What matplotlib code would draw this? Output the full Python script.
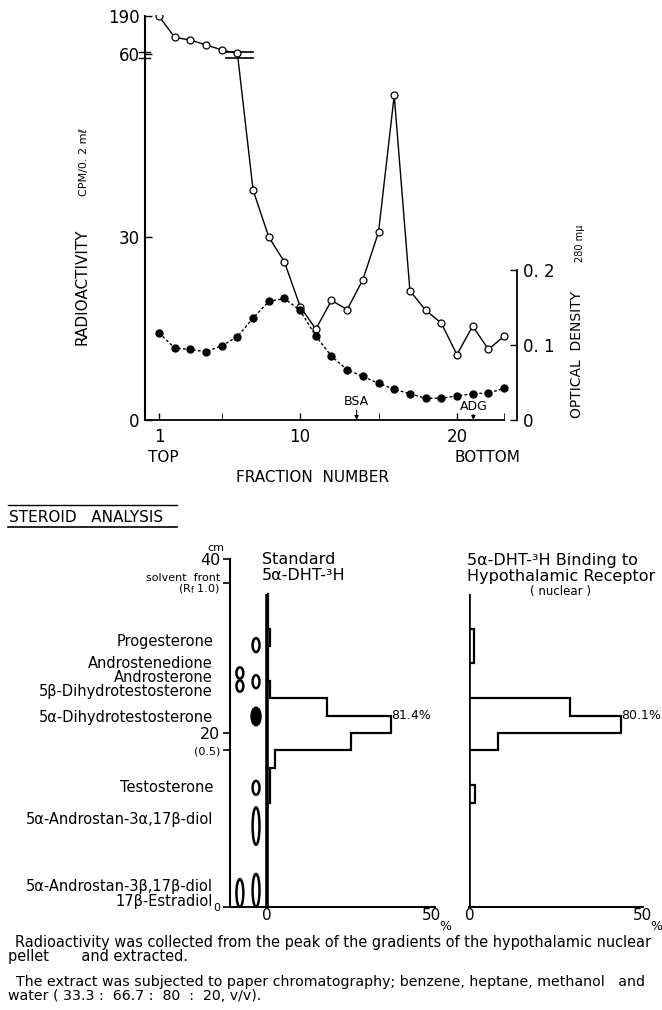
import numpy as np
import matplotlib
matplotlib.use('Agg')
import matplotlib.pyplot as plt
from matplotlib.patches import Ellipse
from matplotlib.lines import Line2D
from matplotlib.transforms import blended_transform_factory

W, H = 662, 1010

# gradient fractions (top panel)
fraction = np.arange(1, 24)
cpm = [190, 117, 108, 91, 74, 62, 37.7, 30, 25.9, 18.6, 14.9, 19.6, 18.1,
       23, 30.8, 53.2, 21.2, 18.0, 15.9, 10.7, 15.4, 11.6, 13.7]
od280 = [0.116, 0.096, 0.094, 0.091, 0.099, 0.111, 0.136, 0.158, 0.162, 0.146,
         0.112, 0.085, 0.067, 0.058, 0.049, 0.041, 0.035, 0.029, 0.029, 0.032,
         0.035, 0.036, 0.042]
bsa_fraction = 13.6
adg_fraction = 21.05

# paper chromatography (bottom panels), 2 cm strips
cm_edges = np.arange(0, 37, 2)
standard_pct = [0, 0, 0, 0, 0, 0, 0.8, 0.8, 2.4, 25.5, 37.6, 18.3, 0.8, 0.4, 0.4, 1.0, 0.4, 0.4]
receptor_pct = [0, 0, 0, 0, 0, 0, 1.5, 0, 0, 8.1, 43.6, 28.9, 0, 0, 1.4, 1.4, 0, 0]
standard_total = '81.4%'
receptor_total = '80.1%'
solvent_front = 37.2
rf_half = 18.0

steroid_names = ['Progesterone', 'Androstenedione', 'Androsterone', '5β-Dihydrotestosterone',
                 '5α-Dihydrotestosterone', 'Testosterone', '5α-Androstan-3α,17β-diol',
                 '5α-Androstan-3β,17β-diol', '17β-Estradiol']
steroid_cm = [30.5, 28.0, 26.4, 24.8, 21.8, 13.7, 10.1, 2.4, 0.6]

spot_lane = [1, 0, 0, 1, 1, 1, 1, 0, 1]
spot_cm = [30.1, 26.9, 25.4, 25.9, 21.9, 13.7, 9.3, 1.6, 1.9]
spot_len = [1.6, 1.3, 1.3, 1.5, 2.0, 1.6, 4.3, 3.2, 3.8]
spot_filled = [False, False, False, False, True, False, False, False, False]
lane_x = [-8.2, -3.3]

fig = plt.figure(figsize=(W / 100, H / 100), dpi=100)


def px(x, y):
    return x / W, 1 - y / H


def ftext(x, y, s, **kw):
    return fig.text(*px(x, y), s, **kw)


# ---------------- top panel ----------------
K = 6.2 / 130


def fwd(v):
    v = np.asarray(v, float)
    return np.where(v <= 60, v, 60 + (v - 60) * K)


def inv(u):
    u = np.asarray(u, float)
    return np.where(u <= 60, u, 60 + (u - 60) / K)


ax = fig.add_axes([145 / W, 1 - 420 / H, (517 - 145) / W, (420 - 15) / H])
ax.patch.set_alpha(0)
ax.set_yscale('function', functions=(fwd, inv))
ax.set_xlim(0.107, 23.83)
ax.set_ylim(0, 194)
ax.plot(fraction, cpm, '-o', color='black', lw=1, ms=5, mfc='white', mew=0.9, zorder=3)

for s in ['top', 'right']:
    ax.spines[s].set_visible(False)
ax.spines['left'].set_bounds(0, 190)
ax.spines['bottom'].set_bounds(0.107, 23)
ax.spines['left'].set_linewidth(1.5)
ax.spines['bottom'].set_linewidth(1.3)
ax.set_yticks([0, 30, 60, 190], ['0', '30', '60', '190'])
ax.set_xticks([1, 10, 20], ['1', '10', '20'])
ax.set_xticks([5, 15, 23], minor=True)
ax.tick_params(direction='in', length=5, width=1, labelsize=12, pad=4)
ax.tick_params(axis='x', which='both', direction='in', length=5, pad=6)

# axis break marks
ax.plot([-0.25, 0.45], [59.3, 59.3], color='black', lw=1, clip_on=False)
ax.plot([-0.25, 0.45], [67, 67], color='black', lw=1, clip_on=False)
brk = fraction[5]
ax.plot([brk - 0.7, brk + 1.0], [59.3, 59.3], color='black', lw=1.2)
ax.plot([brk - 0.7, brk + 1.0], [66, 66], color='black', lw=1.2)

for xf, lab, top in [(bsa_fraction, 'BSA', 1.9), (adg_fraction, 'ADG', 1.2)]:
    ax.annotate('', xy=(xf, 0), xytext=(xf, top - 0.3),
                arrowprops=dict(arrowstyle='-|>', color='black', lw=0.8,
                                mutation_scale=6, shrinkA=0, shrinkB=0))
    ax.text(xf, top, lab, ha='center', va='bottom', fontsize=9)

ax2 = ax.twinx()
ax2.set_ylim(0, 0.54)
ax2.plot(fraction, od280, linestyle=(0, (2, 1.6)), marker='o', color='black',
         lw=1, ms=5)
for s in ['top', 'left', 'bottom']:
    ax2.spines[s].set_visible(False)
ax2.spines['right'].set_bounds(0, 0.2)
ax2.spines['right'].set_linewidth(1.3)
ax2.set_yticks([0, 0.1, 0.2], ['0', '0. 1', '0. 2'])
ax2.tick_params(direction='in', length=5, width=1, labelsize=12, pad=4)

ftext(82, 287, 'RADIOACTIVITY', rotation=90, ha='center', va='center', fontsize=11)
ftext(84, 162, 'CPM/0. 2 mℓ', rotation=90, ha='center', va='center', fontsize=8)
ftext(577, 355, 'OPTICAL  DENSITY', rotation=90, ha='center', va='center', fontsize=10)
ftext(580, 243, '280 mμ', rotation=90, ha='center', va='center', fontsize=7)
ftext(163, 458, 'TOP', ha='center', va='center', fontsize=11)
ftext(487, 458, 'BOTTOM', ha='center', va='center', fontsize=11)
ftext(313, 477, 'FRACTION  NUMBER', ha='center', va='center', fontsize=11)

# ---------------- steroid analysis ----------------
fig.add_artist(Line2D([8 / W, 177 / W], [1 - 505 / H] * 2, color='black', lw=1))
fig.add_artist(Line2D([8 / W, 177 / W], [1 - 527 / H] * 2, color='black', lw=1.2))
ftext(9, 517, 'STEROID   ANALYSIS', ha='left', va='center', fontsize=11)

axL = fig.add_axes([230 / W, 1 - 907 / H, 205 / W, 348 / H])
axL.patch.set_alpha(0)
axL.set_xlim(-11.2, 51)
axL.set_ylim(0, 40)
axR = fig.add_axes([469.5 / W, 1 - 907 / H, (643 - 469.5) / W, 348 / H])
axR.patch.set_alpha(0)
axR.set_xlim(0, 50)
axR.set_ylim(0, 40)

for a, vals, tot in [(axL, standard_pct, standard_total), (axR, receptor_pct, receptor_total)]:
    a.stairs(vals, cm_edges, orientation='horizontal', baseline=0, color='black', lw=1.6)
    a.vlines(0, cm_edges[0], cm_edges[-1], color='black', lw=2.6)
    k = int(np.argmax(vals))
    a.text(vals[k] + 0.2, cm_edges[k + 1], tot, ha='left', va='center', fontsize=9)
    a.spines['top'].set_visible(False)
    a.spines['right'].set_visible(False)
    a.spines['bottom'].set_linewidth(1.4)
    a.set_xticks([0, 50], ['0', '50'])
    a.tick_params(axis='x', length=0, labelsize=11, pad=1)

axR.spines['left'].set_visible(False)
axR.set_yticks([])
axL.spines['left'].set_linewidth(1.5)
axL.set_yticks([0, rf_half, 20, solvent_front, 40],
               ['0', '(0.5)', '20', 'solvent  front\n(R$_\\mathregular{f}$ 1.0)', '40'])
axL.tick_params(axis='y', direction='out', length=5, width=1.2, pad=2)
for t in axL.get_yticklabels():
    t.set_fontsize(11.5 if t.get_text() in ('20', '40') else 8)
    t.set_linespacing(0.9)
ftext(216, 548, 'cm', ha='center', va='center', fontsize=8)
ftext(445, 926, '%', ha='center', va='center', fontsize=9)
ftext(656, 926, '%', ha='center', va='center', fontsize=9)

tr = blended_transform_factory(fig.transFigure, axL.transData)
for name, y in zip(steroid_names, steroid_cm):
    axL.text(213 / W, y, name, transform=tr, ha='right', va='center', fontsize=10.5)

for lane, y, h, f in zip(spot_lane, spot_cm, spot_len, spot_filled):
    axL.add_patch(Ellipse((lane_x[lane], y), 2.7 if f else 2.1, h,
                          facecolor='black' if f else 'white', edgecolor='black',
                          lw=1.8, clip_on=False))

ftext(262, 560, 'Standard', ha='left', va='center', fontsize=11.5)
ftext(262, 576, '5α-DHT-³H', ha='left', va='center', fontsize=11.5)
ftext(467, 560, '5α-DHT-³H Binding to', ha='left', va='center', fontsize=11.5)
ftext(467, 576, 'Hypothalamic Receptor', ha='left', va='center', fontsize=11.5)
ftext(561, 592, '( nuclear )', ha='center', va='center', fontsize=8.5)

# ---------------- caption ----------------
renderer = fig.canvas.get_renderer()


def fit(t, width):
    w = t.get_window_extent(renderer).width
    t.set_fontsize(t.get_fontsize() * width / w)


c1 = ftext(15, 943, 'Radioactivity was collected from the peak of the gradients of the hypothalamic nuclear',
           ha='left', va='center', fontsize=10)
fit(c1, 637)
ftext(8, 957, 'pellet       and extracted.', ha='left', va='center', fontsize=c1.get_fontsize())
c3 = ftext(16, 982, 'The extract was subjected to paper chromatography; benzene, heptane, methanol   and',
           ha='left', va='center', fontsize=10)
fit(c3, 627)
ftext(8, 996, 'water ( 33.3 :  66.7 :  80  :  20, v/v).', ha='left', va='center', fontsize=c3.get_fontsize())

fig.savefig('out.png', dpi=100)
